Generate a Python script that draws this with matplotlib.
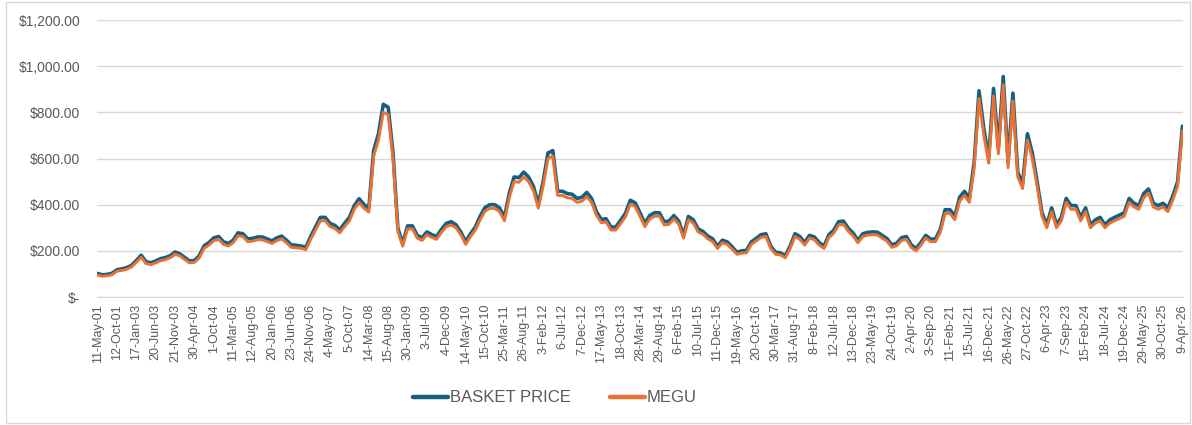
import numpy as np
import matplotlib
matplotlib.use("Agg")
import matplotlib.pyplot as plt
from matplotlib.ticker import FuncFormatter, MultipleLocator
from matplotlib.patches import Rectangle

# Category labels shown on the x axis (every 22nd week in the source)
tick_dates = ["11-May-01", "12-Oct-01", "17-Jan-03", "20-Jun-03", "21-Nov-03", "30-Apr-04",
              "1-Oct-04", "11-Mar-05", "12-Aug-05", "20-Jan-06", "23-Jun-06", "24-Nov-06",
              "4-May-07", "5-Oct-07", "14-Mar-08", "15-Aug-08", "30-Jan-09", "3-Jul-09",
              "4-Dec-09", "14-May-10", "15-Oct-10", "25-Mar-11", "26-Aug-11", "3-Feb-12",
              "6-Jul-12", "7-Dec-12", "17-May-13", "18-Oct-13", "28-Mar-14", "29-Aug-14",
              "6-Feb-15", "10-Jul-15", "11-Dec-15", "19-May-16", "20-Oct-16", "30-Mar-17",
              "31-Aug-17", "8-Feb-18", "12-Jul-18", "13-Dec-18", "23-May-19", "24-Oct-19",
              "2-Apr-20", "3-Sep-20", "11-Feb-21", "15-Jul-21", "16-Dec-21", "26-May-22",
              "27-Oct-22", "6-Apr-23", "7-Sep-23", "15-Feb-24", "18-Jul-24", "19-Dec-24",
              "29-May-25", "30-Oct-25", "9-Apr-26"]

# values, 4 readings per labelled interval
basket = [102, 96, 98, 103, 118,
          122, 127, 137, 158, 181, 153, 148, 156, 166, 171, 179, 195,
          187, 171, 156, 158, 179, 222, 236, 256, 262, 239, 232, 246,
          278, 274, 252, 254, 260, 260, 252, 243, 256, 264, 246, 226,
          224, 221, 215, 262, 303, 345, 345, 319, 310, 291, 319, 345,
          396, 426, 401, 384, 634, 707, 835, 822, 624, 298, 231, 308,
          308, 267, 257, 282, 270, 262, 293, 319, 326, 313, 282, 239,
          274, 303, 350, 388, 400, 400, 386, 345, 448, 520, 517, 541,
          520, 479, 401, 500, 624, 634, 458, 458, 448, 445, 427, 432,
          453, 427, 370, 336, 339, 303, 303, 332, 363, 419, 408, 365,
          319, 353, 365, 365, 326, 329, 353, 329, 267, 349, 334, 295,
          284, 264, 252, 220, 246, 239, 218, 194, 200, 202, 239, 254,
          270, 274, 220, 194, 191, 179, 220, 274, 262, 236, 267, 260,
          236, 220, 270, 289, 326, 329, 298, 277, 246, 274, 280, 282,
          281, 267, 253, 226, 233, 257, 262, 226, 210, 236, 267, 251,
          251, 293, 378, 378, 350, 432, 458, 427, 583, 893, 728, 603,
          903, 645, 955, 583, 883, 541, 489, 707, 624, 499, 365, 313,
          386, 313, 345, 427, 396, 396, 345, 386, 313, 334, 345, 313,
          334, 345, 355, 365, 427, 406, 396, 448, 468, 406, 396, 406,
          386, 437, 499, 740]

megu = [95, 90, 92, 97, 112,
        115, 120, 130, 150, 172, 145, 140, 148, 157, 162, 170, 185,
        178, 162, 148, 150, 170, 211, 225, 244, 250, 228, 221, 235,
        265, 262, 240, 242, 248, 248, 240, 232, 244, 252, 235, 215,
        213, 211, 205, 250, 290, 330, 330, 305, 297, 278, 305, 330,
        380, 409, 385, 368, 610, 680, 800, 790, 600, 285, 220, 295,
        295, 255, 245, 270, 258, 250, 280, 305, 312, 300, 270, 228,
        262, 290, 335, 372, 384, 384, 370, 330, 430, 500, 497, 520,
        500, 460, 385, 480, 600, 610, 440, 440, 430, 427, 410, 415,
        435, 410, 355, 322, 325, 290, 290, 318, 348, 402, 392, 350,
        305, 338, 350, 350, 312, 315, 338, 315, 255, 334, 320, 282,
        272, 252, 240, 210, 235, 228, 208, 185, 190, 192, 228, 243,
        258, 262, 210, 185, 182, 170, 210, 262, 250, 225, 255, 248,
        225, 210, 258, 276, 312, 315, 285, 265, 235, 262, 268, 270,
        269, 255, 242, 215, 222, 245, 250, 215, 200, 225, 255, 240,
        240, 280, 362, 362, 335, 415, 440, 410, 560, 860, 700, 580,
        870, 620, 920, 560, 850, 520, 470, 680, 600, 480, 350, 300,
        370, 300, 330, 410, 380, 380, 330, 370, 300, 320, 330, 300,
        320, 330, 340, 350, 410, 390, 380, 430, 450, 390, 380, 390,
        370, 420, 480, 720]

pts_per_label = 4
blue = "#156082"
orange = "#E97132"
grey_txt = "#595959"

x = np.arange(len(basket)) / pts_per_label

fig = plt.figure(figsize=(11.92, 4.25), dpi=100)
ax = fig.add_axes([97 / 1192, 1 - 297 / 425, (1183 - 97) / 1192, (297 - 20) / 425])

ax.plot(x, basket, color=blue, lw=2.6, solid_capstyle="round", solid_joinstyle="round",
        label="BASKET PRICE", zorder=3)
ax.plot(x, megu, color=orange, lw=2.1, solid_capstyle="round", solid_joinstyle="round",
        label="MEGU", zorder=4)

ax.set_ylim(0, 1200)
ax.set_xlim(-0.03, len(tick_dates) - 1 + 0.03)
ax.yaxis.set_major_locator(MultipleLocator(200))


def money(v, pos):
    if v == 0:
        return "$-"
    return "${:,.2f}".format(v)


ax.yaxis.set_major_formatter(FuncFormatter(money))
ax.set_xticks(range(len(tick_dates)))
ax.set_xticklabels(tick_dates, rotation=90, fontsize=9, color=grey_txt, family="Liberation Sans")
for lab in ax.get_yticklabels():
    lab.set_family("Liberation Sans")
ax.tick_params(axis="y", length=0, labelsize=10, labelcolor=grey_txt, pad=12)
ax.tick_params(axis="x", length=0, pad=5)
ax.grid(axis="y", color="#d9d9d9", lw=1)
ax.set_axisbelow(True)
for s in ["top", "right", "left"]:
    ax.spines[s].set_visible(False)
ax.spines["bottom"].set_color("#d9d9d9")

leg = fig.legend(loc="center", bbox_to_anchor=(555 / 1192, 1 - 398 / 425), ncol=2, frameon=False,
                 handlelength=2.1, columnspacing=2.3, handletextpad=0.15,
                 prop={"family": "Liberation Sans", "size": 12})
for t in leg.get_texts():
    t.set_color(grey_txt)
for h in leg.get_lines():
    h.set_linewidth(3.2)

# chart border
fig.patches.append(Rectangle((6 / 1192, 2 / 425), 1184 / 1192, 421 / 425, transform=fig.transFigure,
                             fill=False, edgecolor="#d9d9d9", lw=1))

fig.savefig("out.png", dpi=100)
